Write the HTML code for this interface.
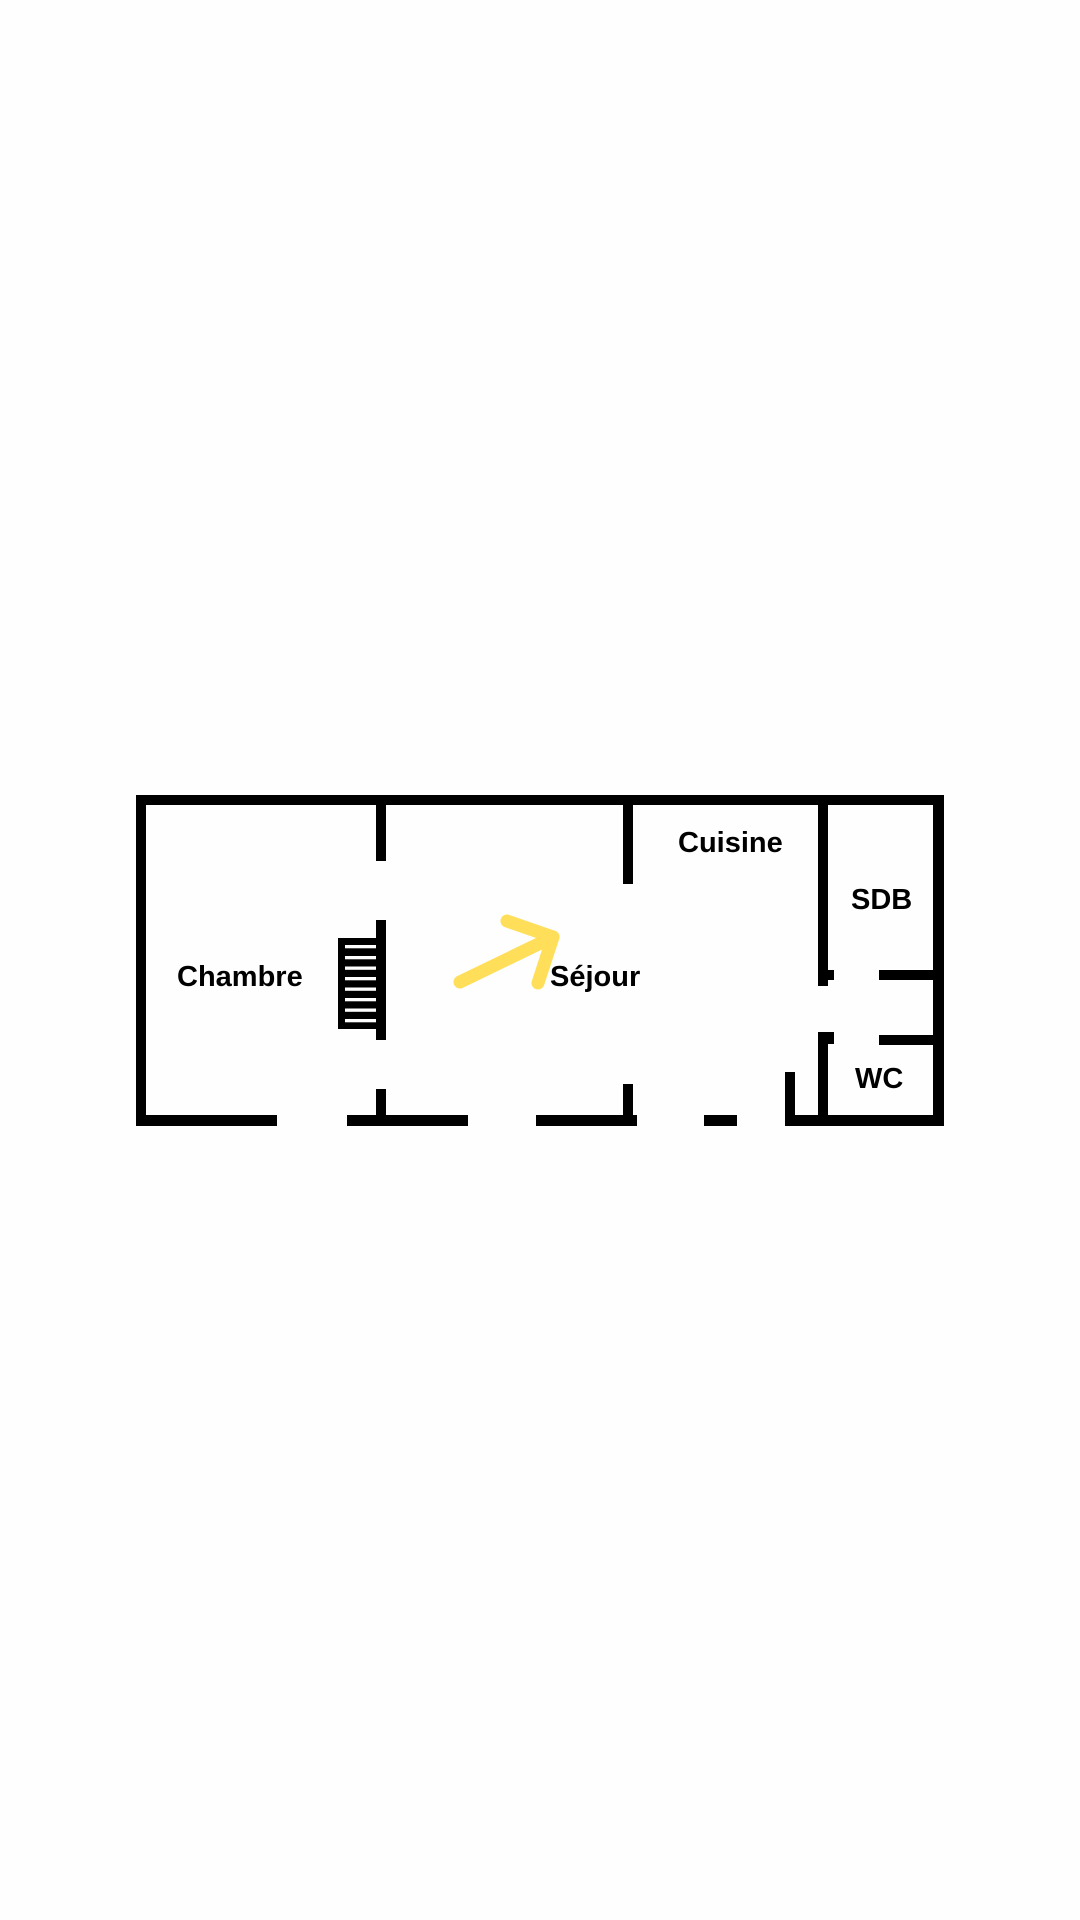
<!DOCTYPE html>
<html><head><style>
html,body{margin:0;padding:0;background:#fff;}
svg{display:block}
text{font-family:"Liberation Sans",sans-serif;font-weight:bold;font-size:29px;fill:#000}
</style></head><body>
<svg width="1080" height="1920" viewBox="0 0 1080 1920">
<rect width="1080" height="1920" fill="#fefefe"/>
<g fill="#000">
<rect x="136" y="795" width="808" height="10"/>
<rect x="136" y="795" width="10" height="331"/>
<rect x="933" y="795" width="11" height="331"/>
<rect x="136" y="1115" width="141" height="11"/>
<rect x="347" y="1115" width="121" height="11"/>
<rect x="536" y="1115" width="101" height="11"/>
<rect x="704" y="1115" width="33" height="11"/>
<rect x="785" y="1115" width="159" height="11"/>
<rect x="376" y="795" width="10" height="66"/>
<rect x="376" y="920" width="10" height="120"/>
<rect x="376" y="1089" width="10" height="30"/>
<rect x="623" y="795" width="10" height="89"/>
<rect x="623" y="1084" width="10" height="35"/>
<rect x="338" y="938" width="40" height="91"/>
<rect x="818" y="795" width="10" height="191"/>
<rect x="818" y="970" width="16" height="10"/>
<rect x="818" y="1032" width="10" height="90"/>
<rect x="818" y="1032" width="16" height="12"/>
<rect x="879" y="970" width="60" height="10"/>
<rect x="879" y="1035" width="60" height="10"/>
<rect x="785" y="1072" width="10" height="50"/>
</g>
<g fill="#fff">
<rect x="345" y="945" width="31" height="3.3"/>
<rect x="345" y="956" width="31" height="3.3"/>
<rect x="345" y="966.5" width="31" height="3.3"/>
<rect x="345" y="977" width="31" height="3.3"/>
<rect x="345" y="987.5" width="31" height="3.3"/>
<rect x="345" y="998" width="31" height="3.3"/>
<rect x="345" y="1008.5" width="31" height="3.3"/>
<rect x="345" y="1019" width="31" height="3.3"/>
</g>
<g stroke="#FFDF5A" stroke-width="13" stroke-linecap="round" stroke-linejoin="round" fill="none">
<line x1="460" y1="982" x2="553" y2="937"/>
<polyline points="507,921 553,937 538,983"/>
</g>
<text x="177" y="986">Chambre</text>
<text x="550" y="986">Séjour</text>
<text x="678" y="852">Cuisine</text>
<text x="851" y="909">SDB</text>
<text x="855" y="1088">WC</text>
</svg>
</body></html>
